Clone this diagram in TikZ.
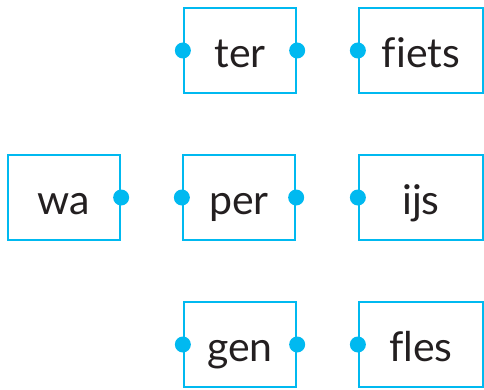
\documentclass[tikz,border=0pt]{standalone}
\usepackage{fontspec}
\setmainfont[Ligatures=NoCommon]{Lato}
\definecolor{cy}{HTML}{00B9F0}
\definecolor{tx}{HTML}{231F20}
\tikzset{
  syl/.style={draw=cy, line width=2.3pt, minimum height=85pt, inner sep=0pt, text height=34pt, text depth=0pt, text=tx, font=\fontsize{41}{41}\selectfont},
  narrow/.style={syl, minimum width=112pt},
  wide/.style={syl, minimum width=124pt},
  dotc/.style={fill=cy}
}
\begin{document}
\begin{tikzpicture}[x=1pt,y=1pt]
\useasboundingbox (0,0) rectangle (484,-390);
\node[narrow] (ter) at (240,-50.5) {ter};
\node[narrow] (per) at (239,-197.5) {per};
\node[narrow] (gen) at (240,-344.5) {gen};
\node[narrow] (wa) at (64,-197.5) {wa};
\node[wide] (fiets) at (421,-50.5) {fiets};
\node[wide] (ijs) at (421,-197.5) {ijs};
\node[wide] (fles) at (421,-344.5) {fles};
\foreach \n in {ter,per,gen}{
  \fill[dotc] (\n.west) circle (8pt);
  \fill[dotc] (\n.east) circle (8pt);
}
\fill[dotc] (wa.east) circle (8pt);
\foreach \n in {fiets,ijs,fles}{
  \fill[dotc] (\n.west) circle (8pt);
}
\end{tikzpicture}
\end{document}
